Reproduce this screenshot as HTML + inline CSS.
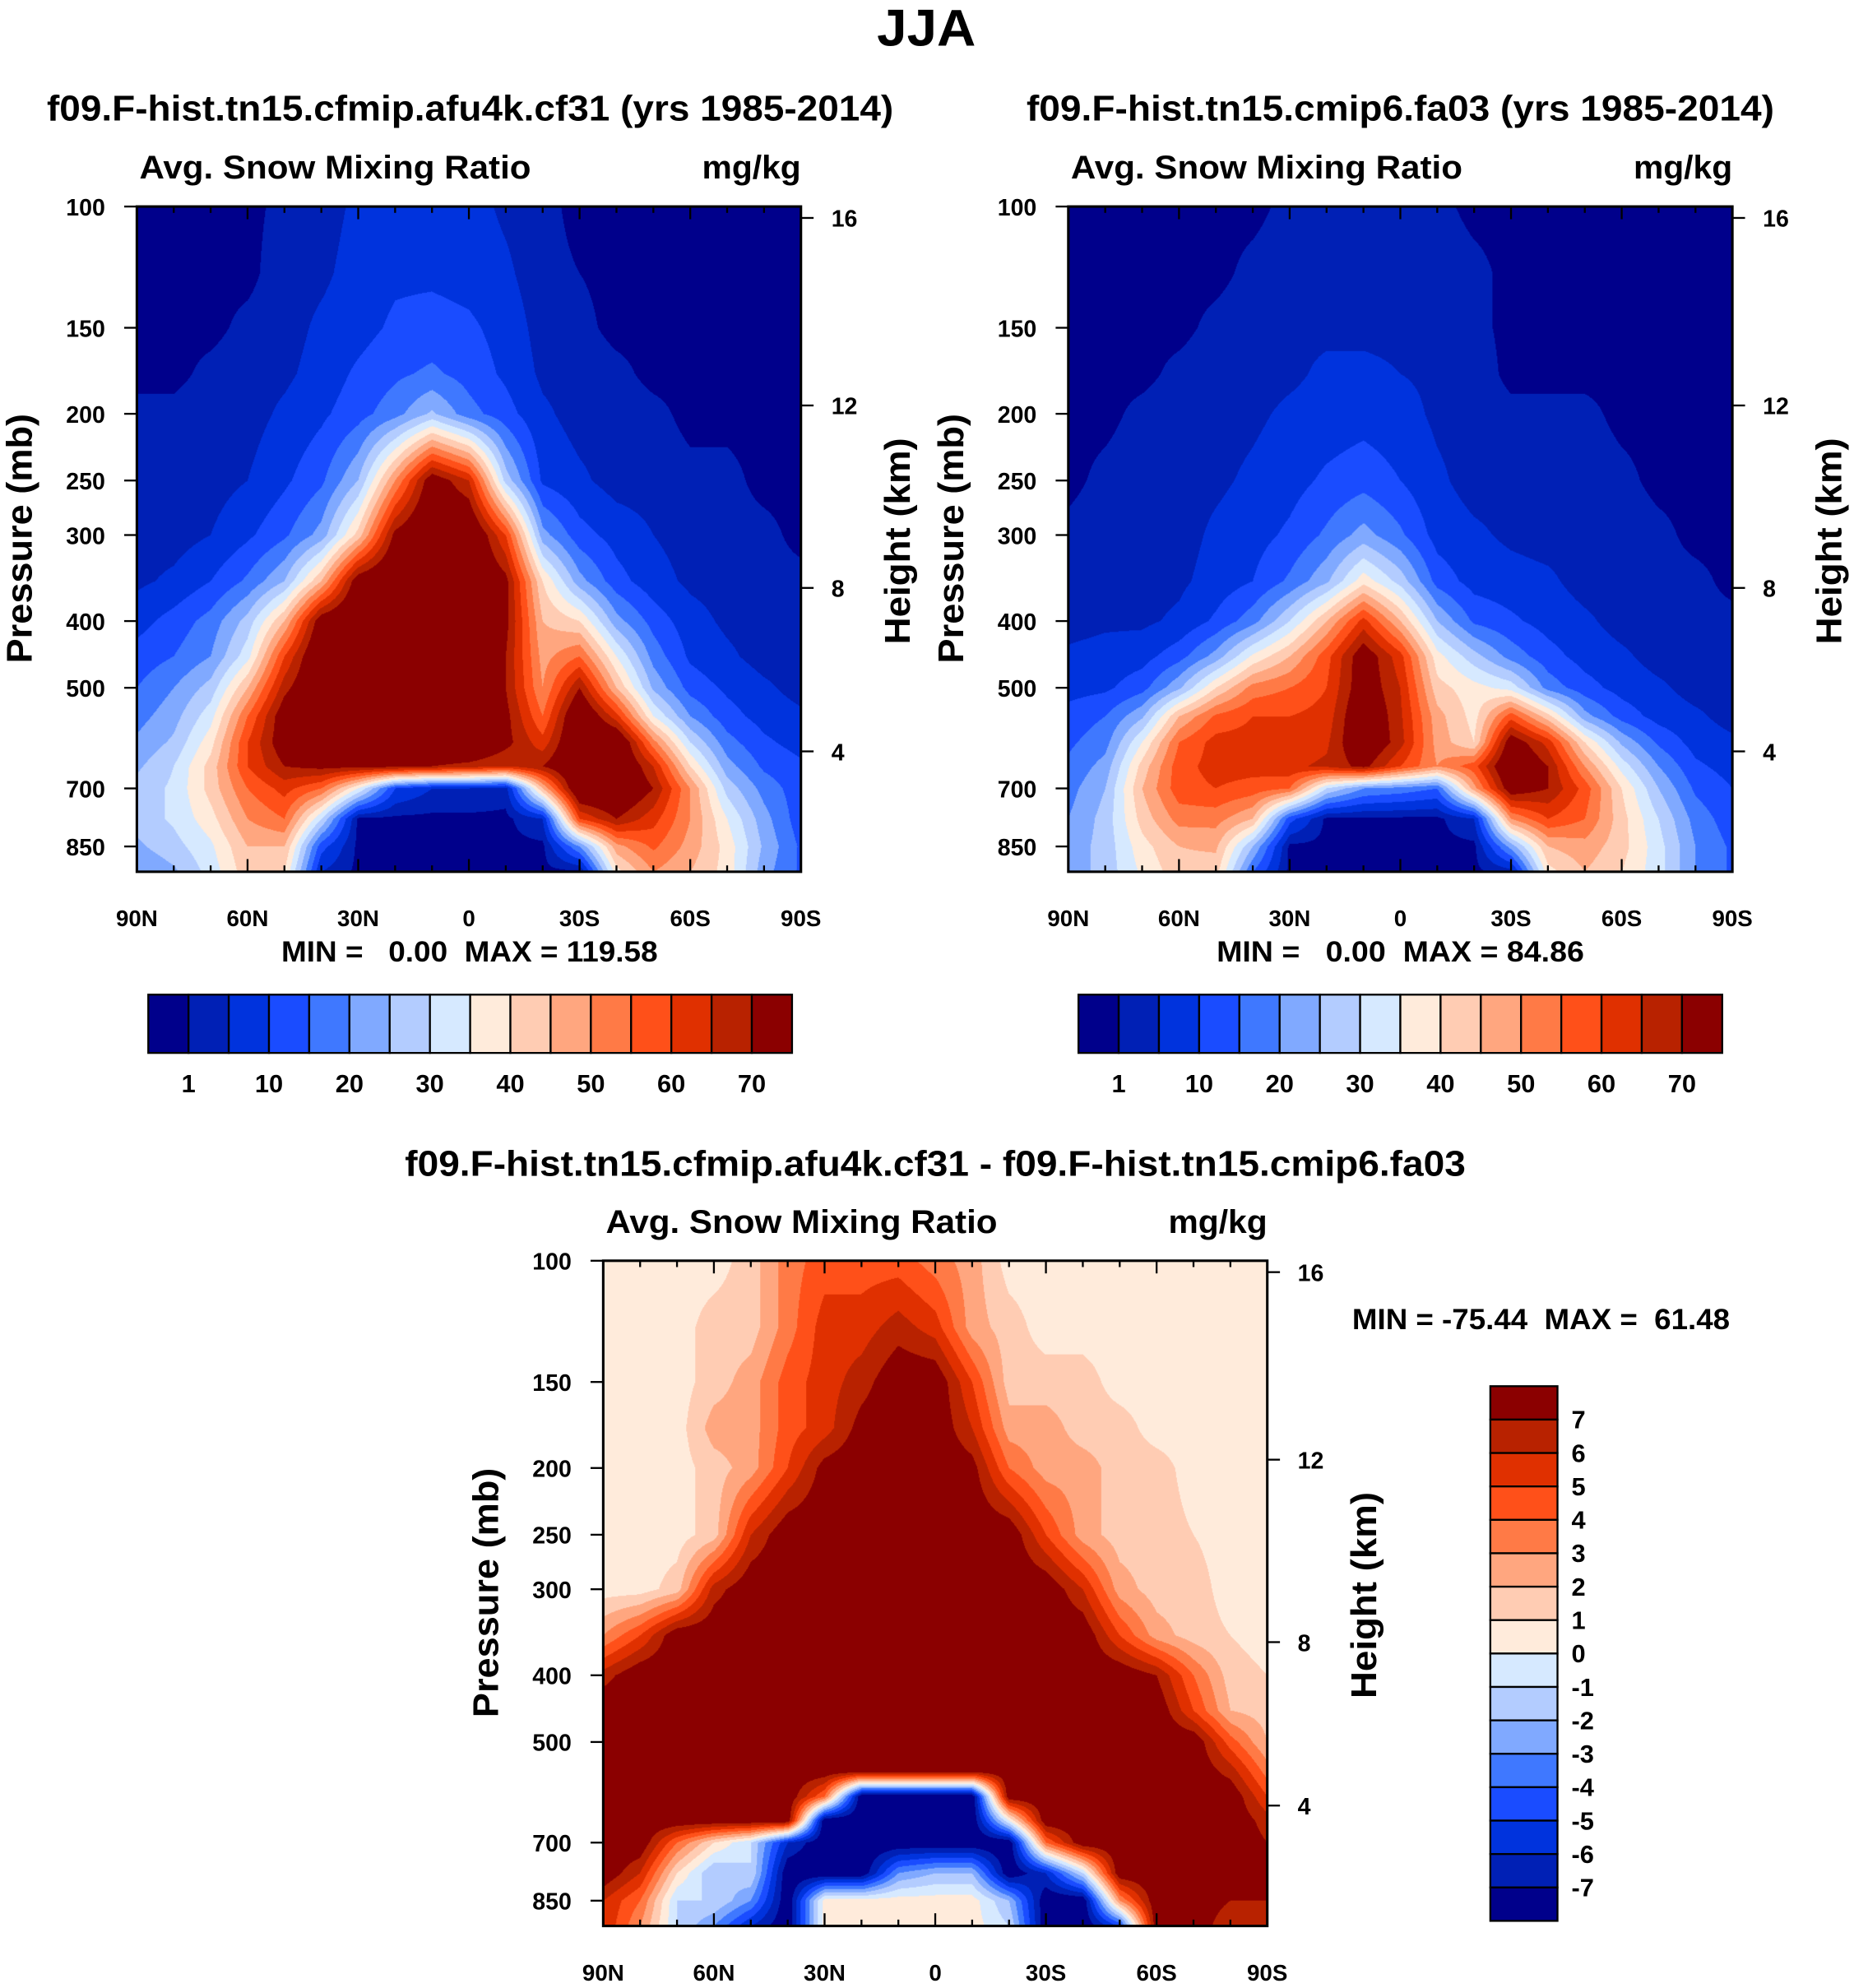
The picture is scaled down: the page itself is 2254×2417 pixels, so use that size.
<!DOCTYPE html>
<html><head><meta charset="utf-8">
<style>
html,body{margin:0;padding:0;background:#fff;width:2254px;height:2417px;overflow:hidden}
#wrap{position:absolute;left:0;top:0;width:1463px;height:1569px;transform:scale(1.5407,1.5405);transform-origin:0 0}
canvas{position:absolute}
svg{position:absolute;left:0;top:0}
text{font-family:"Liberation Sans",Arial,sans-serif;font-weight:bold;fill:#000}
</style></head>
<body>
<div id="wrap">
<canvas id="c1" width="808" height="810" style="left:108px;top:163px;width:524px;height:525px"></canvas>
<canvas id="c2" width="808" height="810" style="left:843px;top:163px;width:524px;height:525px"></canvas>
<canvas id="c3" width="808" height="810" style="left:476px;top:995px;width:524px;height:525px"></canvas>
<svg id="ov" width="1463" height="1569" viewBox="0 0 1463 1569">
<text x="731" y="36" font-size="41" text-anchor="middle" textLength="78" lengthAdjust="spacingAndGlyphs">JJA</text>
<text x="371" y="95" font-size="28" text-anchor="middle" textLength="668" lengthAdjust="spacingAndGlyphs">f09.F-hist.tn15.cfmip.afu4k.cf31 (yrs 1985-2014)</text>
<text x="1105" y="95" font-size="28" text-anchor="middle" textLength="590" lengthAdjust="spacingAndGlyphs">f09.F-hist.tn15.cmip6.fa03 (yrs 1985-2014)</text>
<text x="738" y="928" font-size="28" text-anchor="middle" textLength="837" lengthAdjust="spacingAndGlyphs">f09.F-hist.tn15.cfmip.afu4k.cf31 - f09.F-hist.tn15.cmip6.fa03</text>
<text x="1067" y="1049" font-size="23" xml:space="preserve" textLength="298" lengthAdjust="spacingAndGlyphs">MIN = -75.44  MAX =  61.48</text>
<text x="222" y="759" font-size="23" xml:space="preserve" textLength="297" lengthAdjust="spacingAndGlyphs">MIN =   0.00  MAX = 119.58</text>
<text x="960" y="759" font-size="23" xml:space="preserve" textLength="290" lengthAdjust="spacingAndGlyphs">MIN =   0.00  MAX = 84.86</text>
</svg>
</div>
<script>
const LATS=[90,80,70,60,50,40,30,20,10,0,-10,-20,-30,-40,-50,-60,-70,-80,-90];
const PRES=[100,125,150,175,200,250,300,350,400,450,500,550,600,650,700,775,850,925];
const LEVELS_AB=[1,5,10,15,20,25,30,35,40,45,50,55,60,65,70];
const LEVELS_D=[-7,-6,-5,-4,-3,-2,-1,0,1,2,3,4,5,6,7];
const COLORS=["#00008b","#0020b5","#0033dd","#1a4cff","#3f78ff","#80a9ff","#b3ccff","#d6e9ff","#ffebdb","#ffccb3","#ffa67f","#ff7a46","#ff5019","#e03000","#b82200","#8b0000"];
const CB_LABELS_AB=["1","10","20","30","40","50","60","70"];
const XTICK_LABELS=["90N","60N","30N","0","30S","60S","90S"];
const YTICK_P=[100,150,200,250,300,400,500,700,850];
const HEIGHT_LABELS=["16","12","8","4"];
const valsA=[
[0,0,0,0,2,3,6,7,8,7,4,2,0,0,0,0,0,0,0],
[0,0,0,0,3,4,7,9,9,8,6,2,1,0,0,0,0,0,0],
[0,0,0,2,3,6,8,11,12,11,8,3,2,0,0,0,0,0,0],
[0,0,2,3,4,7,11,14,16,13,9,4,3,2,0,0,0,0,0],
[2,2,3,3,6,9,13,18,26,17,12,6,3,3,2,0,0,0,0],
[3,3,3,5,9,14,25,50,75,65,28,9,6,3,3,2,2,0,0],
[3,3,5,9,14,22,42,72,80,80,60,22,12,8,5,3,2,2,0],
[4,6,10,16,25,45,75,80,80,80,72,40,22,12,7,4,3,2,2],
[8,12,17,27,45,75,80,80,80,80,72,45,40,22,13,7,4,3,3],
[12,15,20,33,60,80,80,80,80,80,70,48,55,35,18,9,6,3,3],
[15,20,27,45,68,80,80,80,80,80,70,50,70,45,24,13,9,6,3],
[18,23,33,55,75,80,80,80,80,80,72,55,80,62,35,20,12,8,6],
[21,26,38,60,75,80,80,80,80,80,72,62,80,80,52,30,17,11,8],
[24,30,42,60,70,72,72,72,70,68,65,70,80,80,65,40,22,14,11],
[27,31,42,55,62,55,35,10,5,5,3,45,80,80,70,50,28,18,12],
[27,31,38,50,55,30,0,0,0,0,0,5,60,70,62,50,35,22,12],
[24,28,34,45,45,12,0,0,0,0,0,0,20,48,56,48,38,24,14],
[20,24,32,43,40,5,0,0,0,0,0,0,0,38,50,45,38,22,14]];
const valsB=[
[0,0,0,0,0,0,2,2,2,2,2,0,0,0,0,0,0,0,0],
[0,0,0,0,0,2,3,3,3,3,3,2,0,0,0,0,0,0,0],
[0,0,0,0,2,3,4,4,4,4,3,2,0,0,0,0,0,0,0],
[0,0,0,2,3,3,4,6,6,5,4,3,0,0,0,0,0,0,0],
[0,0,2,3,3,4,6,7,8,7,4,3,2,2,2,0,0,0,0],
[0,2,3,3,4,6,8,11,13,10,6,3,3,3,3,2,0,0,0],
[2,3,3,3,6,8,11,16,22,16,8,6,4,3,3,3,2,0,0],
[3,3,3,4,7,10,16,24,38,28,13,8,7,6,3,3,2,2,0],
[3,4,4,6,11,18,30,45,62,45,25,14,11,8,6,3,3,2,2],
[6,7,8,13,22,36,45,58,75,62,37,27,18,12,8,6,3,3,3],
[8,9,13,24,40,52,55,60,75,65,42,37,33,18,12,8,6,3,3],
[12,15,24,45,56,60,60,62,78,66,47,38,58,42,22,13,8,6,3],
[14,18,35,55,62,62,62,64,78,67,48,40,75,63,40,24,14,8,6],
[16,22,42,58,62,62,64,66,72,60,50,58,80,70,50,33,20,11,8],
[18,25,45,58,60,58,55,30,20,18,15,48,75,70,58,40,25,14,10],
[20,27,42,52,52,45,12,0,0,0,0,5,50,60,55,42,30,18,12],
[22,27,38,45,46,25,0,0,0,0,0,0,22,45,48,42,32,20,14],
[22,27,36,43,42,15,0,0,0,0,0,0,3,38,45,40,32,20,14]];
const valsD=[
[.5,.5,.5,.5,1.5,3.5,4.5,4.5,4.5,3.5,2.5,.5,.5,.5,.5,.5,.5,.5,.5],
[.5,.5,.5,1.5,1.5,3.5,5.5,5.5,6.5,5.5,2.5,1.5,.5,.5,.5,.5,.5,.5,.5],
[.5,.5,.5,1.5,2.5,4.5,5.5,6.5,8,8,5,1.5,1.5,1.5,.5,.5,.5,.5,.5],
[.5,.5,.5,2.5,2.5,4.5,5.5,7.5,8,8,6,2.5,2.5,1.5,1.5,.5,.5,.5,.5],
[.5,.5,.5,1.5,2.5,5,7.5,8,8,8,7.5,4,2.5,2.5,1.5,1.5,.5,.5,.5],
[.5,.5,.5,1.5,6,8,8,8,8,8,8,8,5,2.5,1.5,1.5,1,.5,.5],
[.5,.5,1.5,6.5,8,8,8,8,8,8,8,8,8,6,2.5,1.5,1.5,.5,.5],
[3,5,8,8,8,8,8,8,8,8,8,8,8,8,5,2.5,1.5,1,.5],
[6.5,8,8,8,8,8,8,8,8,8,8,8,8,8,8,7,4,1.5,1],
[8,8,8,8,8,8,8,8,8,8,8,8,8,8,8,8,5,2,1.5],
[8,8,8,8,8,8,8,8,8,8,8,8,8,8,8,8,8,4.5,2],
[8,8,8,8,8,8,8,8,8,8,8,8,8,8,8,8,8,6.5,3.5],
[8,8,8,8,8,8,4,-8,-8,-8,-8,8,8,8,8,8,8,8,5],
[8,8,8,8,8,8,-8,-8,-8,-8,-8,0,8,8,8,8,8,8,6.5],
[8,8,4,1,-1,-6,-8,-8,-8,-8,-8,-8,4,8,8,8,8,8,7],
[8,6,1,-2,-1,-8,-8,-8,-3,-2,-2,-8,-6,-1,8,8,8,8,7],
[6,4,-1,-1,-3,-8,.5,.5,.5,.5,.5,-2,-8,-8,3,8,8,7,7],
[6,3,-1,-3,-6,-8,.5,.5,.5,.5,.5,-1,-8,-8,-5,8,8,6,6]];

const PTOP=100,PBOT=925,PLOT_W=524,PLOT_H=525;
function yOfP(p){return Math.log(p/PTOP)/Math.log(PBOT/PTOP)*PLOT_H;}
function xOfLat(l){return (90-l)/180*PLOT_W;}
function levelIndex(v,levels){let k=0;for(const L of levels){if(v>=L)k++;}return k;}
function hexToRgb(h){return [parseInt(h.substr(1,2),16),parseInt(h.substr(3,2),16),parseInt(h.substr(5,2),16)];}
const RGB=COLORS.map(hexToRgb);
const LNP=PRES.map(p=>Math.log(p));
function drawField(canvasId,vals,levels){
  const cv=document.getElementById(canvasId);const W=cv.width,H=cv.height;
  const ctx=cv.getContext('2d');const img=ctx.createImageData(W,H);
  const lnTop=Math.log(PTOP),lnBot=Math.log(PBOT);
  for(let py=0;py<H;py++){
    const lp=lnTop+(py+0.5)/H*(lnBot-lnTop);
    let i=0;while(i<PRES.length-2&&lp>LNP[i+1])i++;
    let ty=(lp-LNP[i])/(LNP[i+1]-LNP[i]);ty=Math.max(0,Math.min(1,ty));
    for(let px=0;px<W;px++){
      const lat=90-(px+0.5)/W*180;
      const fx=(90-lat)/10;let j=Math.min(LATS.length-2,Math.floor(fx));const tx=fx-j;
      const v=(1-ty)*((1-tx)*vals[i][j]+tx*vals[i][j+1])+ty*((1-tx)*vals[i+1][j]+tx*vals[i+1][j+1]);
      const c=RGB[levelIndex(v,levels)];const o=(py*W+px)*4;
      img.data[o]=c[0];img.data[o+1]=c[1];img.data[o+2]=c[2];img.data[o+3]=255;
    }
  }
  ctx.putImageData(img,0,0);
}
drawField('c1',valsA,LEVELS_AB);
drawField('c2',valsB,LEVELS_AB);
drawField('c3',valsD,LEVELS_D);

const NS="http://www.w3.org/2000/svg";const ov=document.getElementById('ov');
function mk(tag,attrs,parent){const e=document.createElementNS(NS,tag);for(const k in attrs)e.setAttribute(k,attrs[k]);(parent||ov).appendChild(e);return e;}
function line(x1,y1,x2,y2,w,g){return mk('line',{x1:x1,y1:y1,x2:x2,y2:y2,stroke:'#000','stroke-width':w},g);}
function txt(x,y,s,size,anchor,g,rot,len){const t=mk('text',{x:x,y:y,'font-size':size,'text-anchor':anchor||'start'},g);if(rot)t.setAttribute('transform','rotate(-90 '+x+' '+y+')');if(len){t.setAttribute('textLength',len);t.setAttribute('lengthAdjust','spacingAndGlyphs');}t.textContent=s;return t;}
const HEIGHT_OFFS=[9,157,301,430];
function axes(x0,y0,pre){
  const g=mk('g',{});
  
  
  const fr=mk('rect',{x:x0,y:y0,width:PLOT_W,height:PLOT_H,fill:'none',stroke:'#000','stroke-width':2},g);
  
  
  for(let l=90;l>=-90;l-=10){const x=x0+xOfLat(l);const major=(l%30===0);const len=major?10:5;
    line(x,y0+PLOT_H,x,y0+PLOT_H-len,1.5,g);line(x,y0,x,y0+len,1.5,g);}
  XTICK_LABELS.forEach((s,k)=>{const t=txt(x0+k*PLOT_W/6,y0+PLOT_H+43,s,18,'middle',g);
    
    });
  YTICK_P.forEach(p=>{const y=y0+yOfP(p);line(x0,y,x0-10,y,1.5,g);const t=txt(x0-25,y+7,String(p),18.5,'end',g);
    
    });
  HEIGHT_LABELS.forEach((s,k)=>{const y=y0+HEIGHT_OFFS[k];line(x0+PLOT_W,y,x0+PLOT_W+10,y,1.5,g);const t=txt(x0+PLOT_W+24,y+7,s,18.5,'start',g);
    
    });
  const a=txt(x0+2,y0-22,'Avg. Snow Mixing Ratio',26,'start',g,false,309);
  
  
  const u=txt(x0+PLOT_W,y0-22,'mg/kg',26,'end',g,false,78);
  
  
  const pt=txt(x0-83,y0+262,'Pressure (mb)',28,'middle',g,true,197);
  
  
  const ht=txt(x0+PLOT_W+86,y0+264,'Height (km)',28,'middle',g,true,163);
  
  
}
axes(108,163,'panel-a');axes(843,163,'panel-b');axes(476,995,'panel-diff');

function hbar(x0,y0,pre){
  const g=mk('g',{});
  
  
  const bw=508/COLORS.length;
  COLORS.forEach((c,k)=>{const r=mk('rect',{x:x0+k*bw,y:y0,width:bw,height:46,fill:c,stroke:'#000','stroke-width':1.5},g);
    
    });
  CB_LABELS_AB.forEach((s,k)=>{const t=txt(x0+(2*k+1)*bw,y0+77,s,20,'middle',g);
    
    });
}
hbar(117,785,'panel-a');hbar(851,785,'panel-b');

(function(){const g=mk('g',{});
  
  
  const x0=1176,y0=1094,bh=422/COLORS.length;
  for(let k=0;k<COLORS.length;k++){const r=mk('rect',{x:x0,y:y0+k*bh,width:53,height:bh,fill:COLORS[COLORS.length-1-k],stroke:'#000','stroke-width':1.5},g);
    
    }
  for(let k=0;k<LEVELS_D.length;k++){const v=LEVELS_D[LEVELS_D.length-1-k];const t=txt(x0+64,y0+(k+1)*bh+7,String(v),20,'start',g);
    
    }
})();
</script>
</body></html>
